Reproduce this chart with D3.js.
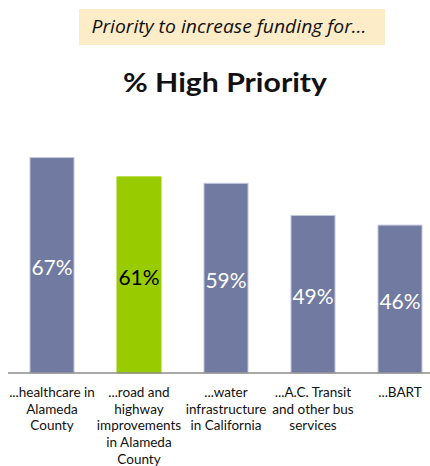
<!DOCTYPE html>
<html><head><meta charset="utf-8">
<script src="https://cdn.jsdelivr.net/npm/d3@7"></script>
<style>body{margin:0;background:#fff}svg{display:block}</style>
</head><body>
<script>
const categories = [
  ["...healthcare in","Alameda","County"],
  ["...road and","highway","improvements","in Alameda","County"],
  ["...water","infrastructure","in California"],
  ["...A.C. Transit","and other bus","services"],
  ["...BART"]
];
const values = [67, 61, 59, 49, 46];
const highlight = [false, true, false, false, false];
const subtitle = "Priority to increase funding for…";
const title = "% High Priority";

const W = 430, H = 466;
const svg = d3.select("body").append("svg").attr("width", W).attr("height", H);

// banner
svg.append("rect").attr("x", 79).attr("y", 9).attr("width", 306).attr("height", 36).attr("fill", "#fdecc8");
svg.append("text").attr("x", 229).attr("y", 33).attr("text-anchor", "middle")
  .attr("font-family", "Open Sans").attr("font-style", "italic").attr("font-size", 17.5)
  .attr("textLength", 275).attr("lengthAdjust", "spacingAndGlyphs")
  .attr("fill", "#111").text(subtitle);
svg.append("text").attr("x", 225).attr("y", 92).attr("text-anchor", "middle")
  .attr("font-family", "Lato").attr("font-weight", "bold").attr("font-size", 26)
  .attr("textLength", 204).attr("lengthAdjust", "spacingAndGlyphs")
  .attr("fill", "#111").text(title);

const x = d3.scaleBand().domain(d3.range(values.length)).range([8.5, 443.5])
  .paddingInner(0.494).paddingOuter(0.247);
const y = d3.scaleLinear().domain([0, 70]).range([373, 373 - 70 * 3.215]);

const g = svg.append("g");
g.selectAll("rect.bar").data(values).join("rect").attr("class", "bar")
  .attr("x", (d, i) => x(i)).attr("width", x.bandwidth())
  .attr("y", d => y(d)).attr("height", d => y(0) - y(d))
  .attr("fill", (d, i) => highlight[i] ? "#99cc00" : "#717aa0")
  .attr("stroke", (d, i) => highlight[i] ? "#99cc00" : "#c4c8dc").attr("stroke-width", 1);

g.selectAll("text.val").data(values).join("text").attr("class", "val")
  .attr("x", (d, i) => x(i) + x.bandwidth() / 2)
  .attr("y", d => (y(d) + y(0)) / 2 + 10)
  .attr("text-anchor", "middle").attr("font-family", "Lato").attr("font-size", 21)
  .attr("fill", (d, i) => highlight[i] ? "#000" : "#fff")
  .text(d => d + "%");

const axis = svg.append("g").attr("transform", `translate(0,${y(0)})`)
  .call(d3.axisBottom(x).tickSize(0).tickFormat(""));
axis.select(".domain").attr("d", "M8,0H430").attr("stroke", "#8c8c8c").attr("stroke-width", 1.5);

const lab = svg.selectAll("text.cat").data(categories).join("text").attr("class", "cat")
  .attr("text-anchor", "middle").attr("font-family", "Lato").attr("font-size", 13.5).attr("fill", "#111");
lab.each(function(lines, i) {
  d3.select(this).selectAll("tspan").data(lines).join("tspan")
    .attr("x", x(i) + x.bandwidth() / 2)
    .attr("y", (d, j) => 397 + j * 16.7)
    .text(d => d);
});
</script>
</body></html>
